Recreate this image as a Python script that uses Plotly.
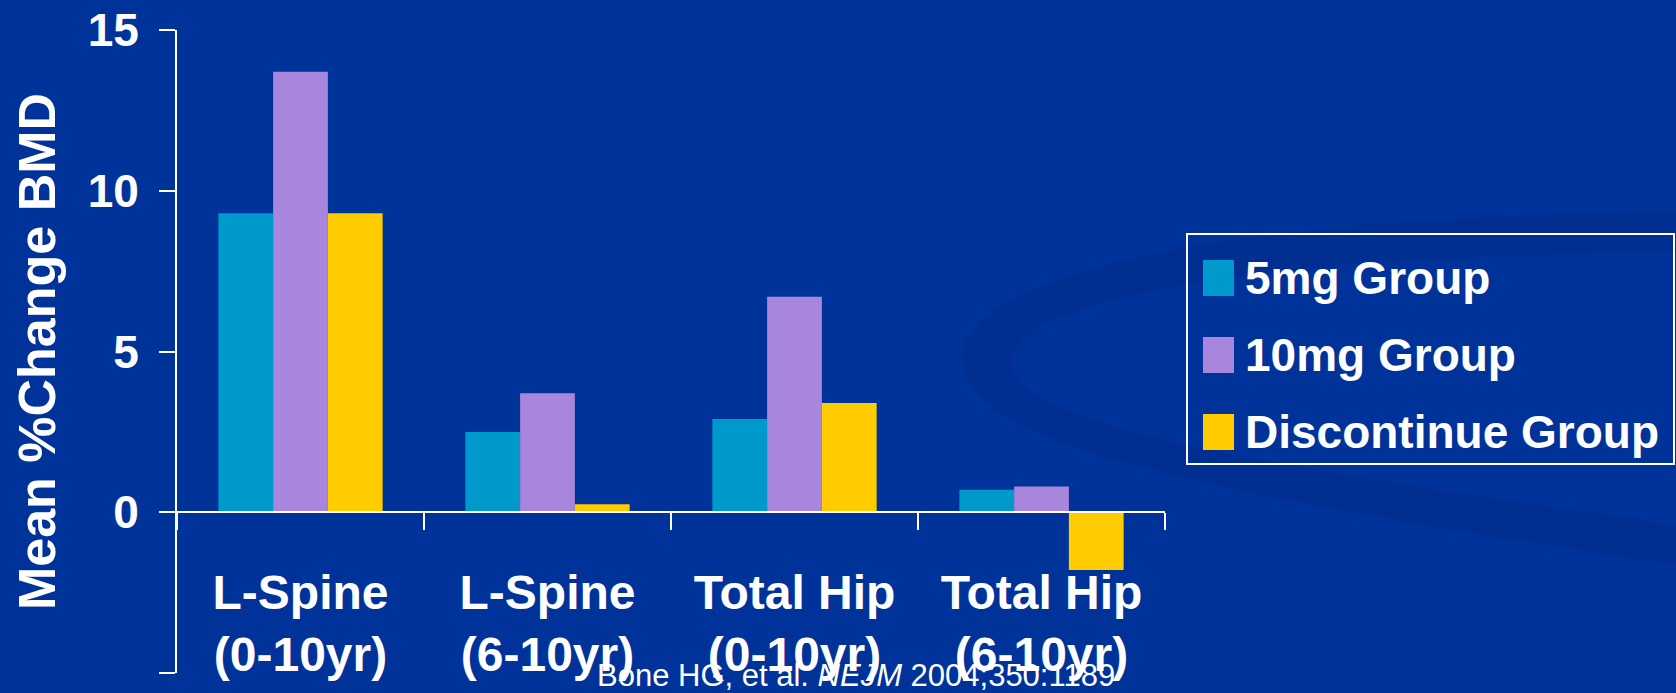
import plotly.graph_objects as go

# ---- data ----
categories = ["L-Spine<br>(0-10yr)", "L-Spine<br>(6-10yr)", "Total Hip<br>(0-10yr)", "Total Hip<br>(6-10yr)"]
group_names = ["5mg Group", "10mg Group", "Discontinue Group"]
values_5mg = [9.3, 2.5, 2.9, 0.7]
values_10mg = [13.7, 3.7, 6.7, 0.8]
values_disc = [9.3, 0.25, 3.4, -1.8]
y_tick_vals = [-5, 0, 5, 10, 15]
y_title = "Mean %Change BMD"
citation = "Bone HG, et al. <i>NEJM</i> 2004;350:1189"

colors = ["#0099CC", "#A886DE", "#FFCC00"]
BG = "#003399"
FONT = "Liberation Sans, Arial, sans-serif"

W, H = 1676, 693
L, R, T, B = 177, 511, 30, 20
PW, PH = W - L - R, H - T - B


def px(xp):
    return (xp - L) / PW


def py(yp):
    return (H - B - yp) / PH


def path_px(cmds):
    # cmds: list of (letter, [(x,y),...]) in pixel space -> SVG path in paper space
    out = []
    for letter, pts in cmds:
        out.append(letter + " " + " ".join(f"{px(x):.5f},{py(y):.5f}" for x, y in pts))
    return " ".join(out) + " Z"


fig = go.Figure()
for name, vals, col in zip(group_names, [values_5mg, values_10mg, values_disc], colors):
    fig.add_trace(go.Bar(x=categories, y=vals, name=name, marker=dict(color=col, line=dict(width=0)),
                         showlegend=False))

ymin, ymax = -5, 15
zero_pos = (0 - ymin) / (ymax - ymin)

fig.update_layout(
    width=W, height=H, autosize=False,
    margin=dict(l=L, r=R, t=T, b=B, pad=0, autoexpand=False),
    paper_bgcolor=BG, plot_bgcolor="rgba(0,0,0,0)",
    barmode="group", bargap=0.335, bargroupgap=0,
    font=dict(family=FONT, color="white"),
    showlegend=False,
)

fig.update_xaxes(
    type="category", range=[-0.5, 3.5],
    anchor="free", position=zero_pos, automargin=False,
    showline=True, linecolor="white", linewidth=2,
    ticks="outside", tickson="boundaries", ticklen=17, tickwidth=2, tickcolor="white",
    tickfont=dict(size=48, family=FONT, weight="bold", color="white"),
    ticklabelstandoff=38,
    showgrid=False, zeroline=False,
)

fig.update_yaxes(
    range=[ymin, ymax], tickvals=y_tick_vals, automargin=False,
    showline=True, linecolor="white", linewidth=2,
    ticks="outside", ticklen=16, tickwidth=2, tickcolor="white",
    tickfont=dict(size=46, family=FONT, weight="bold", color="white"),
    ticklabelstandoff=11,
    showgrid=False, zeroline=False,
    title=dict(text=y_title, font=dict(size=52, family=FONT, weight="bold", color="white"), standoff=15),
)

shapes = []
annotations = []

# subtle background swoosh (slide decoration)
shapes.append(dict(type="path", xref="paper", yref="paper", layer="below",
                   path=path_px([("M", [(1676, 212)]),
                                 ("C", [(1250, 215), (950, 270), (962, 365)]),
                                 ("C", [(972, 450), (1250, 500), (1676, 565)]),
                                 ("L", [(1676, 525)]),
                                 ("C", [(1300, 470), (1020, 430), (1012, 365)]),
                                 ("C", [(1005, 300), (1250, 255), (1676, 252)])]),
                   fillcolor="rgba(0,30,120,0.22)", line=dict(width=0)))

# manual legend (large swatches)
shapes.append(dict(type="rect", xref="paper", yref="paper",
                   x0=px(1187), x1=px(1674), y0=py(464), y1=py(234),
                   line=dict(color="white", width=2), fillcolor="rgba(0,0,0,0)", layer="above"))
row_centers = [278, 355, 432]
for name, col, yc in zip(group_names, colors, row_centers):
    shapes.append(dict(type="rect", xref="paper", yref="paper",
                       x0=px(1203), x1=px(1234), y0=py(yc + 18), y1=py(yc - 18),
                       line=dict(width=0), fillcolor=col, layer="above"))
    annotations.append(dict(text=name, xref="paper", yref="paper", x=px(1243), y=py(yc),
                            xanchor="left", yanchor="middle", showarrow=False,
                            font=dict(size=46, family=FONT, weight="bold", color="white")))

annotations.append(dict(text=citation, xref="paper", yref="paper", x=px(856), y=py(675),
                        xanchor="center", yanchor="middle", showarrow=False,
                        font=dict(size=31, family=FONT, color="white")))

fig.update_layout(shapes=shapes, annotations=annotations)

fig.write_html("out.html", config={"displayModeBar": False},
               post_script="document.body.style.margin='0px';document.body.style.overflow='hidden';")
